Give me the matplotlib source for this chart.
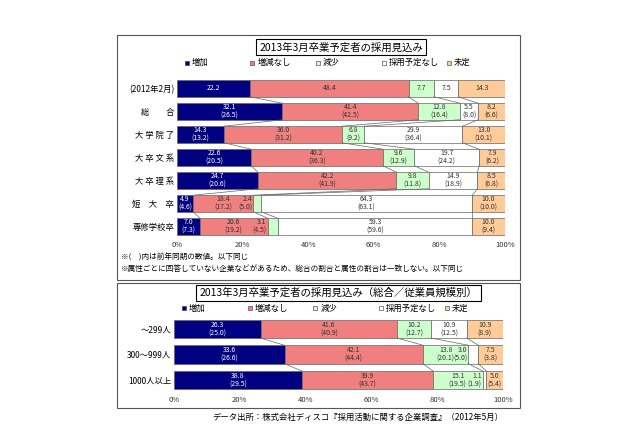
import matplotlib
matplotlib.use("Agg")
import matplotlib.pyplot as plt
import numpy as np
from matplotlib.patches import Rectangle

plt.rcParams['font.family'] = 'Noto Sans CJK JP'

series = ["増加", "増減なし", "減少", "採用予定なし", "未定"]
colors = ["#000080", "#f08080", "#ccffcc", "#ffffff", "#ffcc99"]
txtcol = ["white", "#333333", "#333333", "#333333", "#333333"]

top_cats = ["(2012年2月)", "総　　合", "大 学 院 了", "大 卒 文 系", "大 卒 理 系", "短　大　卒", "専修学校卒"]
top_vals = [[22.2, 48.4, 7.7, 7.5, 14.3],
            [32.1, 41.4, 12.8, 5.5, 8.2],
            [14.3, 36.0, 6.8, 29.9, 13.0],
            [22.6, 40.2, 9.6, 19.7, 7.9],
            [24.7, 42.2, 9.8, 14.9, 8.5],
            [4.9, 18.4, 2.4, 64.3, 10.0],
            [7.0, 20.6, 3.1, 59.3, 10.0]]
top_prev = [None,
            [26.5, 42.5, 16.4, 8.0, 6.6],
            [13.2, 31.2, 9.2, 36.4, 10.1],
            [20.5, 36.3, 12.9, 24.2, 6.2],
            [20.6, 41.9, 11.8, 18.9, 6.8],
            [4.6, 17.2, 5.0, 63.1, 10.0],
            [7.3, 19.2, 4.5, 59.6, 9.4]]

bot_cats = ["～299人", "300～999人", "1000人以上"]
bot_vals = [[26.3, 41.6, 10.2, 10.9, 10.9],
            [33.6, 42.1, 13.8, 3.0, 7.5],
            [38.8, 39.9, 15.1, 1.1, 5.0]]
bot_prev = [[25.0, 40.9, 12.7, 12.5, 8.9],
            [26.6, 44.4, 20.1, 5.0, 3.8],
            [29.5, 43.7, 19.5, 1.9, 5.4]]

ticks = [0, 20, 40, 60, 80, 100]
ticklabels = ["0%", "20%", "40%", "60%", "80%", "100%"]

fig = plt.figure(figsize=(6.4, 4.26), dpi=100)
W, H = 640, 426

def box(x0, y0, x1, y1):
    fig.patches.append(Rectangle((x0/W, 1-y1/H), (x1-x0)/W, (y1-y0)/H, transform=fig.transFigure,
                                 fill=False, edgecolor="#555555", lw=0.8))

def panel(rect, cats, vals, prev, title, title_y, legend_y):
    x0, y0, x1, y1 = rect
    ax = fig.add_axes([x0/W, 1-y1/H, (x1-x0)/W, (y1-y0)/H])
    n = len(cats)
    h = 0.72
    for i in range(n):
        left = 0
        for j, v in enumerate(vals[i]):
            ax.barh(i, v, left=left, height=h, color=colors[j], edgecolor="#666666", lw=0.5)
            t = f"{v:.1f}"
            if prev[i] is not None:
                t += f"\n({prev[i][j]:.1f})"
            if v < 4:
                ax.text(left - 0.3, i, t, ha="right", va="center", fontsize=5, color="#333333", linespacing=1.1)
            else:
                ax.text(left + v/2, i, t, ha="center", va="center", fontsize=5, color=txtcol[j], linespacing=1.1)
            left += v
        if i < n-1:
            c1 = np.cumsum(vals[i])[:-1]
            c2 = np.cumsum(vals[i+1])[:-1]
            for a, b in zip(c1, c2):
                ax.plot([a, b], [i+h/2, i+1-h/2], color="#666666", lw=0.5)
    ax.set_xlim(0, 100)
    ax.set_ylim(n-0.5, -0.5)
    ax.set_yticks(range(n))
    ax.set_yticklabels(cats, fontsize=6)
    ax.set_xticks(ticks)
    ax.set_xticklabels(ticklabels, fontsize=5.5, color="#333333")
    ax.tick_params(length=0, pad=2)
    for s in ax.spines.values():
        s.set_visible(False)
    ax.text(0.5, title_y, title, transform=ax.transAxes, ha="center", va="center", fontsize=7.5,
            bbox=dict(boxstyle="square,pad=0.3", fc="white", ec="black", lw=0.8))
    for j, s in enumerate(series):
        ax.scatter([0.03 + j*0.2], [legend_y], s=12, marker="s", color=colors[j], edgecolor="#333333",
                   lw=0.4, transform=ax.transAxes, clip_on=False, zorder=5)
        ax.text(0.045 + j*0.2, legend_y, s, transform=ax.transAxes, fontsize=6, va="center", ha="left")
    return ax

box(117, 35, 520, 280)
panel((177, 77, 505, 238), top_cats, top_vals, top_prev, "2013年3月卒業予定者の採用見込み", 1.185, 1.09)
fig.text(121/W, 1-258/H, "※(　)内は前年同期の数値。以下同じ", fontsize=5.5, va="center")
fig.text(121/W, 1-269/H, "※属性ごとに回答していない企業などがあるため、総合の割合と属性の割合は一致しない。以下同じ",
         fontsize=5.5, va="center")
box(117, 283, 520, 408)
panel((174, 316, 503, 393), bot_cats, bot_vals, bot_prev, "2013年3月卒業予定者の採用見込み（総合／従業員規模別）",
      1.30, 1.10)
fig.text(503/W, 1-417/H, "データ出所：株式会社ディスコ『採用活動に関する企業調査』（2012年5月）", fontsize=6, ha="right", va="center")

fig.savefig("out.png", dpi=100)
